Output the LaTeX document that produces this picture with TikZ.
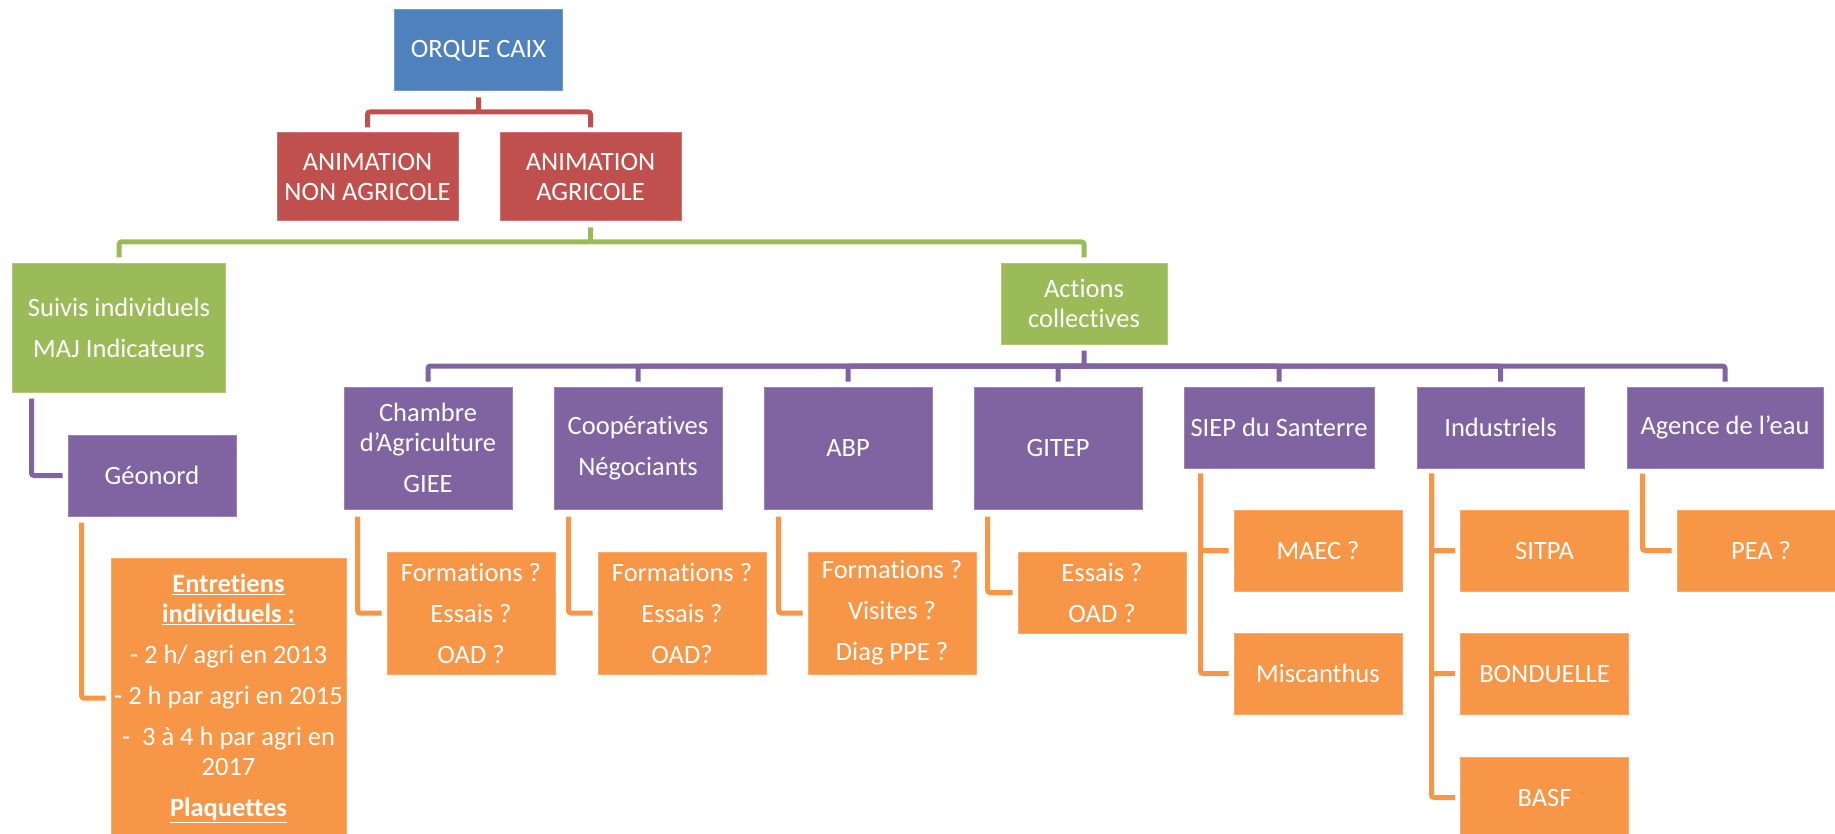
\documentclass[tikz,border=0pt]{standalone}
\usepackage{fontspec}
\setmainfont[Ligatures={TeX,NoCommon}]{Carlito}
\usetikzlibrary{positioning}
\definecolor{cblue}{HTML}{4F81BD}
\definecolor{cred}{HTML}{C0504D}
\definecolor{cgreen}{HTML}{9BBB59}
\definecolor{cpurple}{HTML}{8064A2}
\definecolor{corange}{HTML}{F79646}
\tikzset{
    box/.style = {rectangle, fill=#1, draw=#1!80!white, line width=1pt, inner sep=0pt,
                  minimum width=168pt, minimum height=81pt, align=center, text=white,
                  font=\fontsize{26.5}{30}\selectfont},
    boxb/.style = {box=cblue},
    boxr/.style = {box=cred, minimum width=181pt, minimum height=88pt},
    boxg/.style = {box=cgreen},
    boxp/.style = {box=cpurple},
    boxo/.style = {box=corange},
    tall/.style = {minimum height=122pt},
    link/.style = {line width=5pt, rounded corners=2.5pt, shorten >=5pt},
    linkr/.style = {link, draw=cred},
    linkg/.style = {link, draw=cgreen},
    linkp/.style = {link, draw=cpurple},
    linko/.style = {link, draw=corange}, % sub-items
}
\newcommand{\U}[1]{\underline{\textbf{#1}}}

\begin{document}
\begin{tikzpicture}[x=1pt,y=1pt]
\useasboundingbox (0,0) rectangle (1835,-834);
%
\node[boxb] at (478.5, -50.5) (orque) {ORQUE CAIX};
\node[boxr] at (367.5, -177) (nonagri) {ANIMATION\\NON AGRICOLE};
\node[boxr] at (590.5, -177) (agri) {ANIMATION\\AGRICOLE};
\node[boxg, minimum width=213pt, minimum height=129pt] at (119, -327.5) (suivis) {Suivis individuels\\[11pt]MAJ Indicateurs};
\node[boxg, minimum width=166pt] at (1084, -303.5) (actions) {Actions\\collectives};
%
\node[boxp] at (152, -475.5) (geonord) {Géonord};
\node[boxp, tall] at (428, -448) (chambre) {Chambre\\d’Agriculture\\[11pt]GIEE};
\node[boxp, tall] at (638, -448) (coop) {Coopératives\\[11pt]Négociants};
\node[boxp, tall] at (848, -448) (abp) {ABP};
\node[boxp, tall] at (1058, -448) (gitep) {GITEP};
\node[boxp, minimum width=190pt] at (1279, -427.5) (siep) {SIEP du Santerre};
\node[boxp, minimum width=167pt] at (1500.5, -427.5) (indus) {Industriels};
\node[boxp, minimum width=196pt] at (1725, -427.5) (agence) {Agence de l’eau};
%
\node[boxo, minimum width=235pt, minimum height=280pt] at (228.5, -698) (entr)
    {\U{Entretiens}\\\U{individuels :}\\[11pt]- 2 h/ agri en 2013\\[11pt]- 2 h par agri en 2015\\[11pt]-\ \ 3 à 4 h par agri en\\2017\\[11pt]\U{Plaquettes}};
\node[boxo, tall] at (471, -613) (formc) {Formations ?\\[11pt]Essais ?\\[11pt]OAD ?};
\node[boxo, tall] at (682, -613) (formn) {Formations ?\\[11pt]Essais ?\\[11pt]OAD?};
\node[boxo, tall] at (892, -613) (forma) {Formations ?\\[11pt]Visites ?\\[11pt]Diag PPE ?};
\node[boxo] at (1102, -592.5) (essg) {Essais ?\\[11pt]OAD ?};
\node[boxo] at (1318, -550.5) (maec) {MAEC ?};
\node[boxo] at (1318, -673.5) (misc) {Miscanthus};
\node[boxo] at (1544.5, -550.5) (sitpa) {SITPA};
\node[boxo] at (1544.5, -673.5) (bond) {BONDUELLE};
\node[boxo] at (1544.5, -797.5) (basf) {BASF};
\node[boxo] at (1761, -550.5) (pea) {PEA ?};
%
\coordinate (busr) at (478.5, -112);
\coordinate (busg) at (590.5, -242);
\coordinate (busp) at (1084, -366);
\draw[linkr, shorten <=6pt] (orque.south) -- (busr) -| (nonagri.north);
\draw[linkr] (busr) -| (agri.north);
\draw[linkg, shorten <=6pt] (agri.south) -- (busg) -| (suivis.north);
\draw[linkg] (busg) -| (actions.north);
\draw[linkp, shorten <=6pt] (actions.south) -- (busp) -| (chambre.north);
\foreach \n in {coop,abp,gitep,siep,indus,agence}
    \draw[linkp] (busp) -| (\n.north);
%
\draw[linkp, shorten <=6pt] ([xshift=19.5pt]suivis.south west) |- (geonord.west);
\draw[linko, shorten <=6pt] ([xshift=14pt]geonord.south west) |- (entr.west);
\draw[linko, shorten <=7pt] ([xshift=14pt]chambre.south west) |- (formc.west);
\draw[linko, shorten <=7pt] ([xshift=15pt]coop.south west) |- (formn.west);
\draw[linko, shorten <=7pt] ([xshift=15pt]abp.south west) |- (forma.west);
\draw[linko, shorten <=7pt] ([xshift=14pt]gitep.south west) |- (essg.west);
\foreach \c in {maec,misc}
    \draw[linko, shorten <=5pt] ([xshift=17pt]siep.south west) |- (\c.west);
\foreach \c in {sitpa,bond,basf}
    \draw[linko, shorten <=5pt] ([xshift=15pt]indus.south west) |- (\c.west);
\draw[linko, shorten <=5pt] ([xshift=16pt]agence.south west) |- (pea.west);

\end{tikzpicture}
\end{document}
